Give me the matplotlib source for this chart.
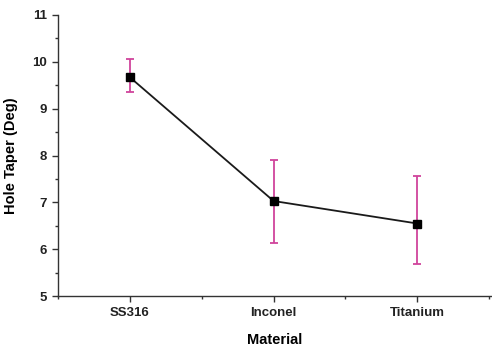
import numpy as np
import matplotlib.pyplot as plt
from matplotlib.ticker import MultipleLocator

materials = ['SS316', 'Inconel', 'Titanium']
taper = [9.67, 7.03, 6.55]
err_low = [0.31, 0.90, 0.86]
err_high = [0.40, 0.87, 1.01]

plt.rcParams['font.family'] = ['Liberation Sans', 'DejaVu Sans']
plt.rcParams['font.weight'] = 'bold'

fig = plt.figure(figsize=(4.92, 3.48), dpi=100)
ax = fig.add_axes([0.118, 0.149, 0.882, 0.808])

x = np.arange(1, len(materials) + 1)
ax.errorbar(x, taper, yerr=[err_low, err_high], fmt='none', ecolor='#d0449c',
            elinewidth=1.3, capsize=3, capthick=1.3, zorder=2)
ax.plot(x, taper, color='#1a1a1a', lw=1.3, marker='s', ms=5.5,
        mfc='black', mec='black', zorder=3)

ax.set_xlim(0.5, 3.52)
ax.set_ylim(5, 11)
ax.set_xticks(x)
ax.set_xticklabels(materials)
ax.xaxis.set_minor_locator(MultipleLocator(0.5))
ax.yaxis.set_major_locator(MultipleLocator(1))
ax.yaxis.set_minor_locator(MultipleLocator(0.5))

for s in ['top', 'right']:
    ax.spines[s].set_visible(False)
for s in ['left', 'bottom']:
    ax.spines[s].set_color('#333333')
    ax.spines[s].set_linewidth(1.0)

ax.tick_params(which='major', direction='out', length=4, width=1, colors='#333333',
               labelsize=9.5, labelcolor='#222222', pad=4)
ax.tick_params(which='minor', direction='out', length=2.5, width=1, colors='#333333')

ax.set_xlabel('Material', fontsize=10.5, fontweight='bold', labelpad=10)
ax.set_ylabel('Hole Taper (Deg)', fontsize=10.5, fontweight='bold', labelpad=10)

fig.savefig('out.png', dpi=100)
